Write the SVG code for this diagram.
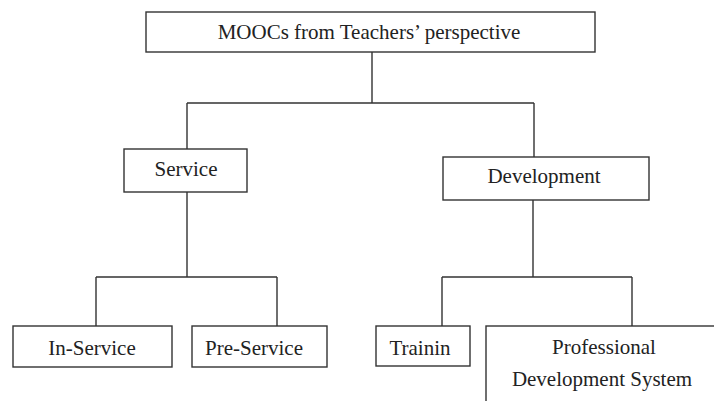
<svg xmlns="http://www.w3.org/2000/svg" width="714" height="401" viewBox="0 0 714 401">
<style>
.box{fill:#fff;stroke:#333;stroke-width:1.4}
.ln{fill:none;stroke:#333;stroke-width:1.4}
text{font-family:"Liberation Serif","Times New Roman",serif;font-size:21px;fill:#222;text-anchor:middle}
</style>
<rect width="714" height="401" fill="#fff"/>
<g id="connectors">
<path class="ln" d="M372,52V103M187,103H534M187,103V149M534,103V157"/>
<path class="ln" d="M187,192V277M96,277H277M96,277V326M277,277V329"/>
<path class="ln" d="M533,200V277M442,277H632M442,277V326M632,277V329"/>
</g>
<g id="root"><rect class="box" x="146" y="12" width="449" height="40"/><text x="369" y="39">MOOCs from Teachers’ perspective</text></g>
<g id="service"><rect class="box" x="124" y="149" width="123" height="43"/><text x="186" y="176">Service</text></g>
<g id="development"><rect class="box" x="443" y="157" width="206" height="43"/><text x="544" y="183">Development</text></g>
<g id="in-service"><rect class="box" x="13" y="326" width="159" height="41"/><text x="92" y="355">In-Service</text></g>
<g id="pre-service"><rect class="box" x="192" y="326" width="135" height="41"/><text x="254" y="355">Pre-Service</text></g>
<g id="trainin"><rect class="box" x="376" y="326" width="94" height="40"/><text x="420" y="355">Trainin</text></g>
<g id="professional"><rect class="box" x="486" y="326" width="240" height="90"/><text x="604" y="354">Professional</text><text x="602" y="386">Development System</text></g>
</svg>
